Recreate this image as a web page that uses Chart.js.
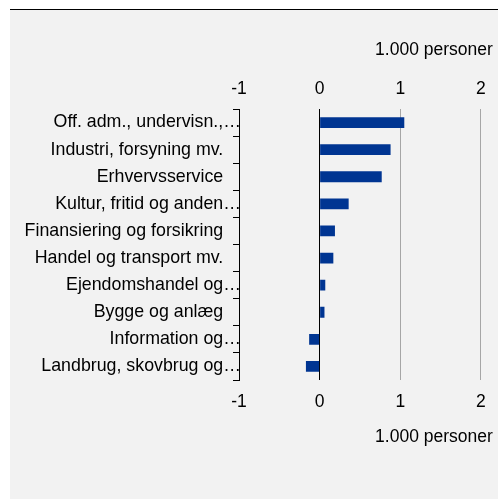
<!DOCTYPE html>
<html>
<head>
<meta charset="utf-8">
<script src="https://cdn.jsdelivr.net/npm/chart.js@4/dist/chart.umd.min.js"></script>
<style>
  html, body { margin: 0; padding: 0; background: #fff; }
  #wrap { position: relative; width: 498px; height: 499px; }
</style>
</head>
<body>
<div id="wrap"><canvas id="c" width="498" height="499"></canvas></div>
<script>
// Change in employment by industry, 1.000 persons
const categories = [
  "Off. adm., undervisn.,…",
  "Industri, forsyning mv.",
  "Erhvervsservice",
  "Kultur, fritid og anden…",
  "Finansiering og forsikring",
  "Handel og transport mv.",
  "Ejendomshandel og…",
  "Bygge og anlæg",
  "Information og…",
  "Landbrug, skovbrug og…"
];
const values = [1.05, 0.88, 0.77, 0.36, 0.19, 0.17, 0.07, 0.06, -0.13, -0.17];
const tickValues = [-1, 0, 1, 2];
const axisTitle = "1.000 personer";

const FONT = { family: "'Liberation Sans', Arial, sans-serif", size: 17.5 };
const LABEL_FONT = { family: "'Liberation Sans', Arial, sans-serif", size: 17.8 };
const TEXT = "#000";

// Gray panel with a rule along its top edge
const panel = {
  id: "panel",
  beforeDraw(chart) {
    const ctx = chart.ctx;
    ctx.save();
    ctx.fillStyle = "#f2f2f2";
    ctx.fillRect(10, 10, 488, 489);
    ctx.strokeStyle = "#000";
    ctx.lineWidth = 1;
    ctx.beginPath();
    ctx.moveTo(10, 9.5);
    ctx.lineTo(498, 9.5);
    ctx.stroke();
    ctx.restore();
  }
};

const setTicks = s => { s.ticks = tickValues.map(v => ({ value: v })); };
const xMax = 2.148;

new Chart(document.getElementById("c"), {
  type: "bar",
  data: {
    labels: categories,
    datasets: [{
      data: values,
      backgroundColor: "#003592",
      borderWidth: 0,
      barPercentage: 0.4,
      categoryPercentage: 1,
      xAxisID: "x",
      yAxisID: "y"
    }]
  },
  options: {
    indexAxis: "y",
    responsive: false,
    animation: false,
    layout: { padding: { top: 10, left: 0, right: 4, bottom: 0 } },
    plugins: { legend: { display: false }, tooltip: { enabled: false } },
    scales: {
      x: {
        position: "top",
        min: -1,
        max: xMax,
        afterBuildTicks: setTicks,
        afterFit: s => { s.height = 99; },
        grid: {
          drawTicks: false,
          lineWidth: 1,
          color: c => (c.tick && c.tick.value <= 0) ? "#000" : "#a6a6a6"
        },
        border: { display: false },
        ticks: { padding: 9, font: FONT, color: TEXT, maxRotation: 0, autoSkip: false },
        title: { display: true, text: axisTitle, align: "end", font: FONT, color: TEXT, padding: { top: 29.5, bottom: 0 } }
      },
      x2: {
        position: "bottom",
        min: -1,
        max: xMax,
        afterBuildTicks: setTicks,
        afterFit: s => { s.height = 119; },
        grid: { display: false, drawTicks: false },
        border: { display: false },
        ticks: { padding: 12, font: FONT, color: TEXT, maxRotation: 0, autoSkip: false },
        title: { display: true, text: axisTitle, align: "end", font: FONT, color: TEXT, padding: { top: 0, bottom: 51.5 } }
      },
      y: {
        position: "left",
        afterFit: s => { s.width = 239; },
        grid: { drawOnChartArea: false, tickLength: 6, color: "#000", lineWidth: 1, offset: true },
        border: { display: true, color: "#000", width: 1 },
        ticks: {
          padding: -8,
          font: LABEL_FONT,
          color: TEXT,
          autoSkip: false,
          callback: (v, i) => categories[i].endsWith("…") ? categories[i] : categories[i] + "\u2003"
        }
      }
    }
  },
  plugins: [panel]
});
</script>
</body>
</html>
